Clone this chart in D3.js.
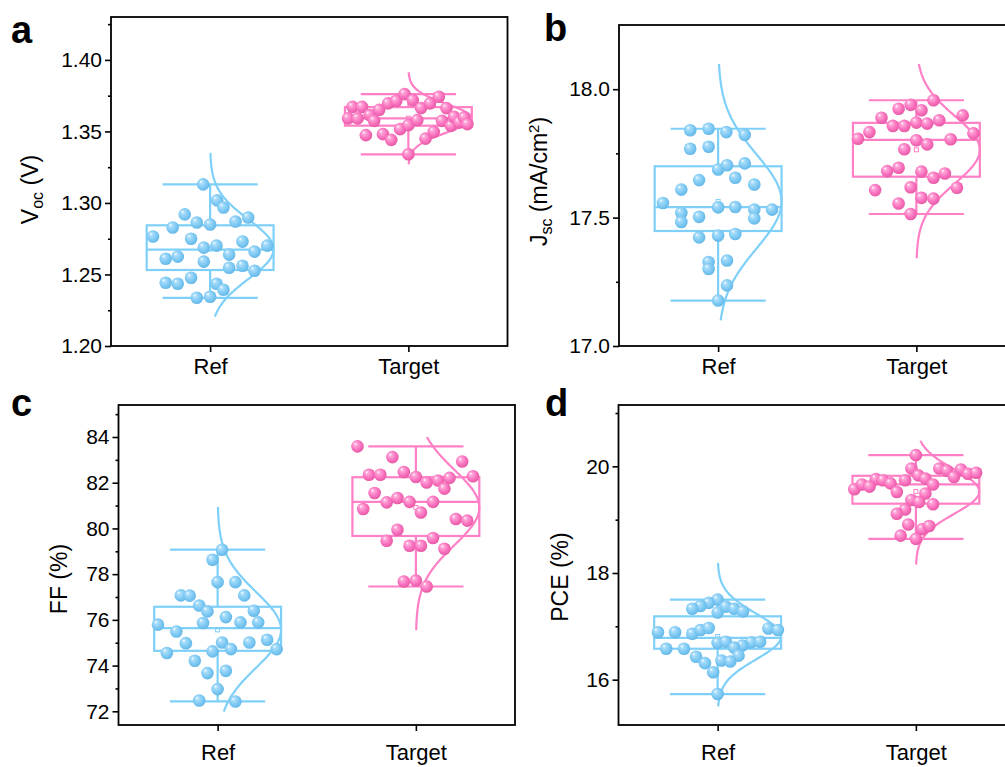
<!DOCTYPE html>
<html>
<head>
<meta charset="utf-8">
<script src="https://cdn.jsdelivr.net/npm/d3@7"></script>
<style>
  html, body { margin: 0; padding: 0; background: #fff; }
  svg { display: block; font-family: "Liberation Sans", Arial, sans-serif; }
</style>
</head>
<body>
<svg id="fig" width="1005" height="767"></svg>
<script>
// ---- categories ----
const categories = ["Ref", "Target"];

// ---- Voc (V) ----
const vocRef = [1.313,1.3018,1.2968,1.292,1.2898,1.2828,1.2863,1.2849,1.287,1.2765,1.275,1.273,1.2688,1.2702,1.266,1.2702,1.261,1.2625,1.259,1.2639,1.2547,1.2561,1.2526,1.2442,1.2435,1.2477,1.2435,1.2393,1.2337,1.2344];
const vocRefJitter = [-0.11,0.11,0.21,-0.40,0.60,-0.59,-0.21,0,0.40,-0.90,-0.30,0.51,-0.10,0.10,0.70,0.90,-0.70,-0.51,-0.10,0.30,0.30,0.51,0.70,-0.70,-0.51,-0.30,0.10,0.21,-0.21,0];
const vocTarget = [1.3672,1.3672,1.3591,1.3591,1.3614,1.3574,1.3651,1.3696,1.3714,1.3761,1.3719,1.3663,1.3696,1.3742,1.3663,1.3474,1.3481,1.3441,1.3516,1.3544,1.3579,1.345,1.3497,1.3574,1.3539,1.3602,1.3563,1.3598,1.3551,1.334];
const vocTargetJitter = [-0.88,-0.73,-0.95,-0.80,-0.61,-0.54,-0.46,-0.32,-0.19,-0.06,0.07,0.20,0.34,0.48,0.60,-0.67,-0.40,-0.27,-0.13,0,0.14,0.27,0.40,0.53,0.67,0.72,0.80,0.88,0.93,0];
const vocCurve = [[1.2205, 1.335], [1.327, 1.3914]];
const vocDomain = [1.2, 1.43];
const vocTicks = [1.20, 1.25, 1.30, 1.35, 1.40];
const vocMinor = [1.225, 1.275, 1.325, 1.375, 1.425];

// ---- Jsc (mA/cm2) ----
const jscRef = [17.840,17.846,17.833,17.822,17.768,17.776,17.6875,17.704,17.711,17.646,17.655,17.609,17.629,17.557,17.518,17.483,17.503,17.540,17.541,17.531,17.497,17.531,17.423,17.430,17.436,17.327,17.300,17.333,17.236,17.177];
const jscRefJitter = [-0.44,-0.15,0.13,0.42,-0.44,-0.15,0,0.14,0.42,-0.30,0.27,-0.58,0.57,-0.87,-0.58,-0.58,-0.30,0,0.27,0.57,0.57,0.85,-0.30,0,0.27,-0.15,-0.15,0.14,0.14,0];
const jscTarget = [17.957,17.924,17.939,17.918,17.898,17.889,17.857,17.857,17.870,17.866,17.879,17.833,17.807,17.828,17.801,17.805,17.785,17.766,17.694,17.681,17.679,17.655,17.672,17.607,17.618,17.616,17.577,17.574,17.555,17.514];
const jscTargetJitter = [0.27,-0.28,-0.09,0.08,0.73,-0.55,-0.37,-0.19,0,0.17,0.36,-0.74,-0.92,0.90,0,0.54,0.17,-0.19,-0.28,-0.46,0.08,0.27,0.45,-0.65,-0.09,0.64,0.08,0.27,-0.28,-0.09];
const jscCurve = [[17.10, 18.098], [17.342, 18.098]];
const jscDomain = [17.0, 18.25];
const jscTicks = [17.0, 17.5, 18.0];
const jscMinor = [17.25, 17.75];

// ---- FF (%) ----
const ffRef = [79.07,78.63,77.65,77.65,77.07,77.06,77.07,76.63,76.37,76.40,76.12,75.79,75.86,75.89,75.89,75.49,74.98,75.01,75.01,75.13,74.62,74.72,74.72,74.55,74.21,73.67,73.77,72.97,72.47,72.43];
const ffRefJitter = [0.07,-0.08,0,0.28,-0.58,-0.44,0.42,-0.29,-0.16,0.57,0.13,-0.94,-0.23,0.36,0.64,-0.65,-0.50,0.07,0.50,0.78,-0.08,0.21,0.93,-0.80,-0.36,-0.16,0.13,0,-0.29,0.28];
const ffTarget = [83.59,83.12,82.93,82.35,82.35,82.47,82.25,82.01,82.10,82.21,82.28,81.74,81.55,81.14,81.33,81.16,81.16,80.70,80.85,80.41,80.34,79.94,79.46,79.24,79.24,79.58,79.11,77.68,77.72,77.46];
const ffTargetJitter = [-0.92,-0.37,0.73,-0.74,-0.56,-0.19,0,0.17,0.35,0.53,0.90,0.45,-0.65,-0.46,-0.29,-0.10,0.27,0.08,-0.83,0.63,0.81,-0.29,-0.46,-0.10,0.08,0.27,0.45,-0.19,0,0.17];
const ffCurve = [[71.99, 80.94], [75.55, 84.0]];
const ffDomain = [71.4, 85.4];
const ffTicks = [72, 74, 76, 78, 80, 82, 84];
const ffMinor = [73, 75, 77, 79, 81, 83, 85];

// ---- PCE (%) ----
const pceRef = [17.50,17.44,17.38,17.33,17.26,17.37,17.33,17.28,16.89,16.89,16.86,16.93,16.97,16.96,16.93,16.69,16.71,16.70,16.71,16.64,16.60,16.58,16.58,16.45,16.43,16.31,16.36,16.34,16.14,15.73];
const pceRefJitter = [0,-0.14,-0.27,-0.40,0,0.13,0.26,0.40,-0.94,-0.67,-0.40,-0.27,-0.14,0.80,0.95,0,0.13,0.53,0.67,0.39,0.26,-0.81,-0.53,0.33,-0.34,-0.20,0.06,0.20,-0.07,0];
const pceTarget = [20.21,19.96,19.96,19.92,19.94,19.86,19.88,19.80,19.83,19.77,19.74,19.76,19.74,19.68,19.66,19.57,19.66,19.62,19.52,19.49,19.37,19.33,19.29,19.19,19.11,18.91,18.82,18.88,18.70,18.64];
const pceTargetJitter = [0,-0.07,0.37,0.49,0.71,0.82,0.95,0.60,0.04,0.15,-0.17,-0.63,-0.52,-0.40,0.27,-0.97,-0.85,-0.73,-0.30,0.15,-0.07,0.05,0.27,-0.17,-0.30,-0.12,0.10,0.21,-0.24,0];
const pceCurve = [[15.50, 18.19], [18.16, 20.48]];
const pceDomain = [15.15, 21.15];
const pceTicks = [16, 18, 20];
const pceMinor = [17, 19, 21];

// ---- styling ----
const lineColors = ["#7fd0f9", "#ff80c6"];
const ballColors = [
  { hi: "#ffffff", mid: "#a9ddfb", base: "#7cc8f2", edge: "#5fb4e6" },
  { hi: "#ffffff", mid: "#ffa6d8", base: "#f870bd", edge: "#e2559f" }
];

const svg = d3.select("#fig");
const defs = svg.append("defs");
ballColors.forEach((c, i) => {
  const g = defs.append("radialGradient")
    .attr("id", "ball" + i)
    .attr("cx", "0.45").attr("cy", "0.45").attr("r", "0.6")
    .attr("fx", "0.32").attr("fy", "0.28");
  g.append("stop").attr("offset", "0%").attr("stop-color", c.hi);
  g.append("stop").attr("offset", "22%").attr("stop-color", c.mid);
  g.append("stop").attr("offset", "65%").attr("stop-color", c.base);
  g.append("stop").attr("offset", "100%").attr("stop-color", c.edge);
});

const panels = [
  { letter: "a", series: [vocRef, vocTarget], jitter: [vocRefJitter, vocTargetJitter], curve: vocCurve,
    domain: vocDomain, ticks: vocTicks, minor: vocMinor, fmt: d3.format(".2f"),
    left: 111, top: 17, bottom: 346, titleX: 38, titleShift: 8, letterPos: [11, 43], xPad: 6,
    title: [["V", 0], ["oc", 1], [" (V)", 0]] },
  { letter: "b", series: [jscRef, jscTarget], jitter: [jscRefJitter, jscTargetJitter], curve: jscCurve,
    domain: jscDomain, ticks: jscTicks, minor: jscMinor, fmt: d3.format(".1f"),
    left: 619, top: 25, bottom: 346, titleX: 547, titleShift: -4, letterPos: [544, 41], xPad: 6,
    title: [["J", 0], ["sc", 1], [" (mA/cm", 0], ["2", 2], [")", 0]] },
  { letter: "c", series: [ffRef, ffTarget], jitter: [ffRefJitter, ffTargetJitter], curve: ffCurve,
    domain: ffDomain, ticks: ffTicks, minor: ffMinor, fmt: d3.format("d"),
    left: 118.5, top: 405, bottom: 725, titleX: 67, titleShift: 14, letterPos: [11, 416], xPad: 13,
    title: [["FF (%)", 0]] },
  { letter: "d", series: [pceRef, pceTarget], jitter: [pceRefJitter, pceTargetJitter], curve: pceCurve,
    domain: pceDomain, ticks: pceTicks, minor: pceMinor, fmt: d3.format("d"),
    left: 618.5, top: 405, bottom: 725, titleX: 568, titleShift: 12, letterPos: [545, 416], xPad: 13,
    title: [["PCE (%)", 0]] }
];

const plotWidth = 396.5;

panels.forEach(p => {
  const g = svg.append("g");
  const right = p.left + plotWidth;
  const x = d3.scalePoint().domain(categories).range([p.left, right]).padding(0.5);
  const y = d3.scaleLinear().domain(p.domain).range([p.bottom, p.top]);
  const halfW = x.step() * 0.32;

  // frame
  g.append("rect")
    .attr("x", p.left).attr("y", p.top)
    .attr("width", plotWidth).attr("height", p.bottom - p.top)
    .attr("fill", "none").attr("stroke", "#000").attr("stroke-width", 1.8);

  // axes
  const yAxis = g.append("g").attr("transform", `translate(${p.left},0)`)
    .call(d3.axisLeft(y).tickValues(p.ticks).tickSize(6).tickPadding(3).tickFormat(p.fmt));
  const yMinor = g.append("g").attr("transform", `translate(${p.left},0)`)
    .call(d3.axisLeft(y).tickValues(p.minor.filter(v => v <= p.domain[1])).tickSize(3).tickFormat(""));
  const xAxis = g.append("g").attr("transform", `translate(0,${p.bottom})`)
    .call(d3.axisBottom(x).tickSize(6).tickPadding(p.xPad));
  [yAxis, yMinor, xAxis].forEach(a => {
    a.select(".domain").remove();
    a.selectAll("line").attr("stroke", "#000").attr("stroke-width", 1.6);
  });
  yAxis.selectAll("text").attr("font-size", 21).attr("fill", "#000")
    .attr("font-family", "'Liberation Sans', Arial, sans-serif");
  xAxis.selectAll("text").attr("font-size", 22).attr("fill", "#000")
    .attr("font-family", "'Liberation Sans', Arial, sans-serif");

  // y title
  const t = g.append("text")
    .attr("transform", `translate(${p.titleX},${(p.top + p.bottom) / 2 + p.titleShift}) rotate(-90)`)
    .attr("text-anchor", "middle").attr("font-size", 23).attr("fill", "#000");
  p.title.forEach(([s, kind]) => {
    const ts = t.append("tspan").text(s);
    if (kind === 1) ts.attr("font-size", 16).attr("baseline-shift", "-30%");
    if (kind === 2) ts.attr("font-size", 15).attr("baseline-shift", "55%");
  });

  // panel letter
  g.append("text").attr("x", p.letterPos[0]).attr("y", p.letterPos[1])
    .attr("font-size", 38).attr("font-weight", "bold").attr("fill", "#000").text(p.letter);

  p.series.forEach((vals, i) => {
    const cx = x(categories[i]);
    const col = lineColors[i];
    const sorted = vals.slice().sort(d3.ascending);
    const q1 = d3.quantile(sorted, 0.25), med = d3.quantile(sorted, 0.5), q3 = d3.quantile(sorted, 0.75);
    const lo = sorted[0], hi = sorted[sorted.length - 1];
    const mean = d3.mean(vals), sd = d3.deviation(vals);
    const sg = g.append("g").attr("stroke", col).attr("stroke-width", 2.2).attr("fill", "none");

    // whiskers
    sg.append("line").attr("x1", cx).attr("x2", cx).attr("y1", y(hi)).attr("y2", y(q3));
    sg.append("line").attr("x1", cx).attr("x2", cx).attr("y1", y(q1)).attr("y2", y(lo));
    sg.append("line").attr("x1", cx - halfW * 0.75).attr("x2", cx + halfW * 0.75).attr("y1", y(hi)).attr("y2", y(hi));
    sg.append("line").attr("x1", cx - halfW * 0.75).attr("x2", cx + halfW * 0.75).attr("y1", y(lo)).attr("y2", y(lo));
    // box
    sg.append("rect").attr("x", cx - halfW).attr("y", y(q3))
      .attr("width", 2 * halfW).attr("height", y(q1) - y(q3));
    sg.append("line").attr("x1", cx - halfW).attr("x2", cx + halfW).attr("y1", y(med)).attr("y2", y(med));
    // mean marker
    sg.append("rect").attr("x", cx - 2).attr("y", y(mean) - 2).attr("width", 4).attr("height", 4)
      .attr("stroke-width", 1);

    // normal distribution curve
    const [c0, c1] = p.curve[i];
    const pts = d3.range(0, 121).map(k => c0 + (c1 - c0) * k / 120);
    const line = d3.line()
      .x(v => cx + halfW * Math.exp(-((v - mean) ** 2) / (2 * sd * sd)))
      .y(v => y(v))
      .curve(d3.curveBasis);
    sg.append("path").attr("d", line(pts));

    // data points
    g.append("g").selectAll("circle").data(vals).join("circle")
      .attr("cx", (v, k) => cx + p.jitter[i][k] * halfW)
      .attr("cy", v => y(v))
      .attr("r", 6.3)
      .attr("fill", `url(#ball${i})`);
  });
});
</script>
</body>
</html>
